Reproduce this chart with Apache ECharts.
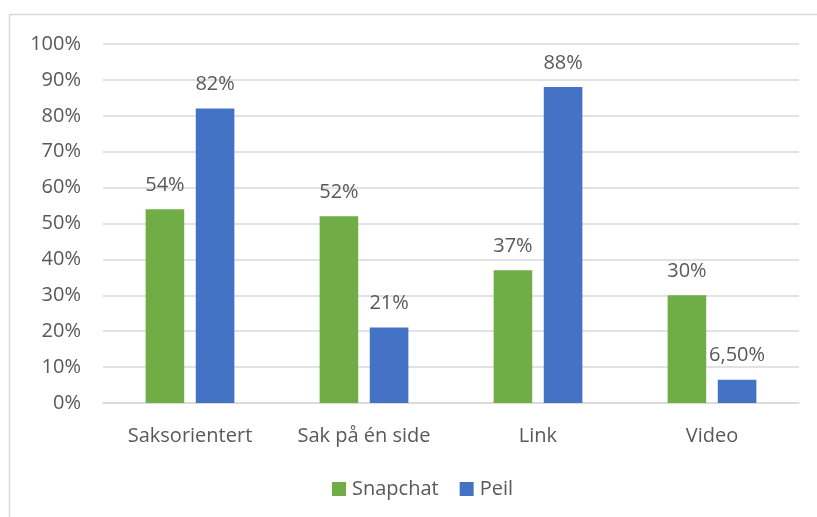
<!DOCTYPE html>
<html>
<head>
<meta charset="utf-8">
<script src="https://cdn.jsdelivr.net/npm/echarts@6/dist/echarts.min.js"></script>
<style>
html,body{margin:0;padding:0;background:#fff;}
#chart{width:817px;height:517px;}
</style>
</head>
<body>
<div id="chart"></div>
<script>
var categories = ['Saksorientert', 'Sak på én side', 'Link', 'Video'];
var snapchat = [54, 52, 37, 30];
var peil = [82, 21, 88, 6.5];
var yTicks = [0, 10, 20, 30, 40, 50, 60, 70, 80, 90, 100];

var textColor = '#595959';
var fontFam = '"Open Sans", "Liberation Sans", sans-serif';

function fmt(v) {
  var n = (v && v.value !== undefined) ? v.value : v;
  if (Math.round(n) === n) return n + '%';
  return n.toFixed(2).replace('.', ',') + '%';
}

var chart = echarts.init(document.getElementById('chart'), null, {renderer: 'canvas'});
chart.setOption({
  animation: false,
  backgroundColor: '#fff',
  textStyle: {fontFamily: fontFam},
  graphic: [
    {type: 'line', shape: {x1: 9.5, y1: 14.5, x2: 817, y2: 14.5}, style: {stroke: '#d9d9d9', lineWidth: 1.5}},
    {type: 'line', shape: {x1: 9.5, y1: 14.5, x2: 9.5, y2: 517}, style: {stroke: '#d9d9d9', lineWidth: 1.5}}
  ],
  legend: {
    bottom: 13,
    left: 327,
    itemWidth: 14,
    itemHeight: 14,
    itemGap: 21,
    icon: 'rect',
    textStyle: {color: textColor, fontSize: 20, fontFamily: fontFam, padding: [0, 0, 0, 1]},
    data: ['Snapchat', 'Peil']
  },
  grid: {left: 103, right: 18, top: 44, bottom: 114},
  xAxis: {
    type: 'category',
    data: categories,
    axisLine: {lineStyle: {color: '#d9d9d9', width: 1.5}},
    axisTick: {show: false},
    axisLabel: {color: textColor, fontSize: 20, margin: 23, fontFamily: fontFam}
  },
  yAxis: {
    type: 'value',
    min: yTicks[0],
    max: yTicks[yTicks.length - 1],
    interval: 10,
    axisLine: {show: false},
    axisTick: {show: false},
    splitLine: {lineStyle: {color: '#d9d9d9', width: 1.5}},
    axisLabel: {color: textColor, fontSize: 20, margin: 22, formatter: '{value}%', fontFamily: fontFam}
  },
  series: [
    {
      name: 'Snapchat', type: 'bar', data: snapchat,
      itemStyle: {color: '#70ad47'},
      barGap: '30%', barCategoryGap: '49%',
      label: {show: true, position: 'top', distance: 14, color: textColor, fontSize: 20, formatter: function(p){return fmt(p.value);}, fontFamily: fontFam}
    },
    {
      name: 'Peil', type: 'bar', data: peil,
      itemStyle: {color: '#4472c4'},
      barGap: '30%', barCategoryGap: '49%',
      label: {show: true, position: 'top', distance: 14, color: textColor, fontSize: 20, formatter: function(p){return fmt(p.value);}, fontFamily: fontFam}
    }
  ]
});
</script>
</body>
</html>
